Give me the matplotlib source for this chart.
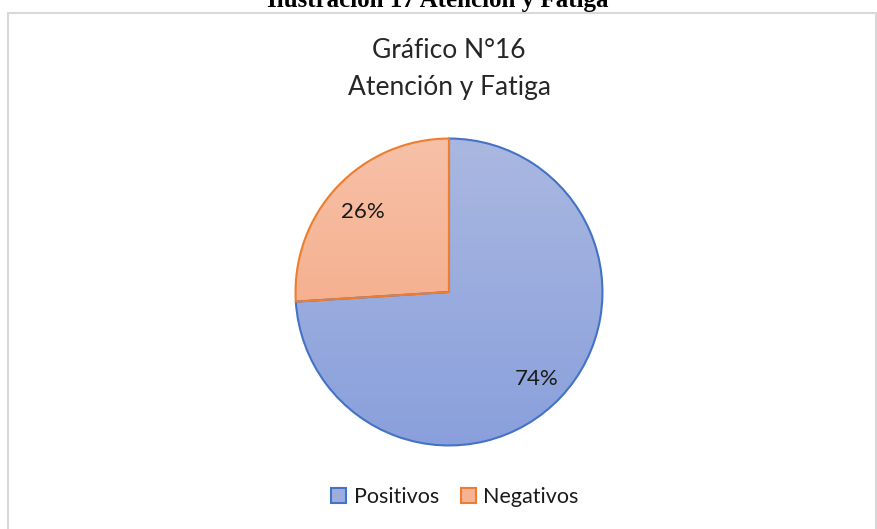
import matplotlib.pyplot as plt, numpy as np
from matplotlib.patches import Rectangle
from matplotlib.colors import LinearSegmentedColormap

labels = ["Positivos", "Negativos"]
values = [74, 26]
pct_labels = ["74%", "26%"]
edge_colors = ["#4472C4", "#ED7D31"]
grad_top = ["#AAB8E1", "#F7C1A8"]
grad_bottom = ["#8AA0DC", "#F4A27A"]

W, H = 877, 529
fig = plt.figure(figsize=(W / 100, H / 100), dpi=100)
fig.patch.set_facecolor("white")

# outer chart frame (bottom runs off the picture)
fig.add_artist(Rectangle((8 / W, -0.05), (876 - 8) / W, (H - 13) / H + 0.05,
                         transform=fig.transFigure, fill=False,
                         edgecolor="#D9D9D9", linewidth=1.5))

# clipped document caption above the chart
fig.text(438 / W, (H - 7) / H, "Ilustración 17 Atención y Fatiga",
         ha="center", va="baseline", fontsize=18, fontweight="bold",
         family="Liberation Serif")

fig.text(449 / W, (H - 69) / H, "Gráfico N°16\nAtención y Fatiga",
         ha="center", va="center", fontsize=19, family="Lato",
         linespacing=1.6, color="#262626")

cx, cy, r = 449, 292, 155
ax = fig.add_axes([(cx - r) / W, (H - cy - r) / H, 2 * r / W, 2 * r / H])
wedges, _ = ax.pie(values, startangle=90, counterclock=False,
                   colors=grad_top, wedgeprops=dict(linewidth=1.5))
ax.set_xlim(-1.01, 1.01)
ax.set_ylim(-1.01, 1.01)
ax.axis("off")

for w, ec, c0, c1 in zip(wedges, edge_colors, grad_top, grad_bottom):
    w.set_edgecolor(ec)
    w.set_facecolor("none")
    w.set_zorder(3)
    cmap = LinearSegmentedColormap.from_list("g", [c1, c0])
    grad = np.linspace(0, 1, 256).reshape(-1, 1)
    im = ax.imshow(grad, cmap=cmap, extent=(-1, 1, -1, 1), origin="lower",
                   aspect="auto", zorder=2)
    im.set_clip_path(w)

# percentage labels inside slices
ax.text(0.57, -0.57, pct_labels[0], ha="center", va="center", fontsize=16,
        family="Lato", color="#1a1a1a", zorder=4)
ax.text(-0.56, 0.52, pct_labels[1], ha="center", va="center", fontsize=16,
        family="Lato", color="#1a1a1a", zorder=4)

handles = [Rectangle((0, 0), 1, 1, facecolor=c, edgecolor=e, linewidth=1.5)
           for c, e in zip(["#9CAEDF", "#F6B394"], edge_colors)]
fig.legend(handles, labels, loc="center", bbox_to_anchor=(455 / W, (H - 497) / H),
           ncol=2, frameon=False, prop=dict(family="Lato", size=15.5),
           handlelength=0.7, handleheight=0.7, handletextpad=0.35,
           columnspacing=1.0, labelcolor="#1a1a1a")

fig.savefig("out.png", dpi=100)
